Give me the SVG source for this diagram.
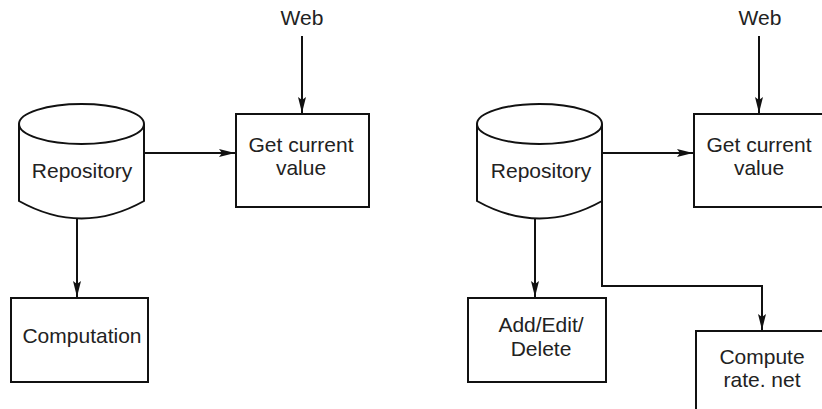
<svg xmlns="http://www.w3.org/2000/svg" width="822" height="409" viewBox="0 0 822 409">
  <defs>
    <marker id="arrow" viewBox="0 0 16 8" refX="16" refY="4" markerWidth="16" markerHeight="8" markerUnits="userSpaceOnUse" orient="auto">
      <path d="M0,0 L16,4 L0,8 L3,4 Z" fill="#111"/>
    </marker>
  </defs>
  <style>
    .box { fill: #fff; stroke: #111; stroke-width: 2; }
    .cyl { fill: #fff; stroke: #111; stroke-width: 2; }
    .edge { fill: none; stroke: #111; stroke-width: 2; marker-end: url(#arrow); }
    .lbl { font-family: "Liberation Sans", Arial, sans-serif; font-size: 21px; fill: #222; text-anchor: middle; }
  </style>
  <rect width="822" height="409" fill="#fff"/>

  <!-- left panel -->
  <g id="web-1">
    <text class="lbl" x="302" y="25">Web</text>
  </g>
  <g id="repository-1">
    <path class="cyl" d="M19,124 L19,201 Q81.5,236 144,201 L144,124"/>
    <ellipse class="cyl" cx="81.5" cy="124" rx="62.5" ry="20"/>
    <text class="lbl" x="82" y="178">Repository</text>
  </g>
  <g id="get-current-value-1">
    <rect class="box" x="236" y="114" width="133" height="93"/>
    <text class="lbl" x="301" y="152">Get current</text>
    <text class="lbl" x="301" y="175">value</text>
  </g>
  <g id="computation">
    <rect class="box" x="11" y="298" width="137" height="84"/>
    <text class="lbl" x="82" y="343">Computation</text>
  </g>

  <!-- right panel -->
  <g id="web-2">
    <text class="lbl" x="760" y="25">Web</text>
  </g>
  <g id="repository-2">
    <path class="cyl" d="M477,124 L477,201 Q539.5,236 602,201 L602,124"/>
    <ellipse class="cyl" cx="539.5" cy="124" rx="62.5" ry="20"/>
    <text class="lbl" x="541" y="178">Repository</text>
  </g>
  <g id="get-current-value-2">
    <rect class="box" x="694" y="114" width="140" height="93"/>
    <text class="lbl" x="759" y="152">Get current</text>
    <text class="lbl" x="759" y="175">value</text>
  </g>
  <g id="add-edit-delete">
    <rect class="box" x="468" y="298" width="138" height="84"/>
    <text class="lbl" x="541" y="332">Add/Edit/</text>
    <text class="lbl" x="541" y="356">Delete</text>
  </g>
  <g id="compute-rate-net">
    <rect class="box" x="696" y="331" width="140" height="90"/>
    <text class="lbl" x="762" y="364">Compute</text>
    <text class="lbl" x="762" y="387">rate. net</text>
  </g>

  <g id="connectors">
    <line class="edge" x1="302" y1="36" x2="302" y2="113"/>
    <line class="edge" x1="144" y1="153" x2="235" y2="153"/>
    <line class="edge" x1="77" y1="218" x2="77" y2="297"/>
    <line class="edge" x1="759" y1="36" x2="759" y2="113"/>
    <line class="edge" x1="602" y1="153" x2="693" y2="153"/>
    <line class="edge" x1="535" y1="218" x2="535" y2="297"/>
    <polyline class="edge" points="602,201 602,286 762,286 762,330"/>
  </g>
</svg>
